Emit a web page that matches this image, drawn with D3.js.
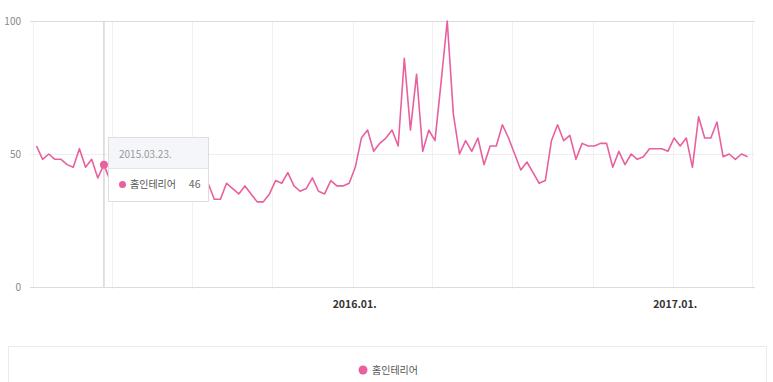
<!DOCTYPE html>
<html>
<head>
<meta charset="utf-8">
<script src="https://cdn.jsdelivr.net/npm/d3@7"></script>
<style>
  body { margin: 0; background: #fff; }
  text { font-family: "Noto Sans CJK KR", "Liberation Sans", sans-serif; }
</style>
</head>
<body>
<div id="chart"></div>
<script>
// series name and weekly values (weeks start Monday 2015.01.05)
const seriesName = "홈인테리어";
const firstWeek = new Date(2015, 0, 5);
const lastWeek = new Date(2017, 2, 27);
const values = [
  53, 48, 50, 48, 48, 46, 45, 52, 45, 48, 41, 46, 40,
  42, 44, 41, 43, 40, 42, 39, 41, 38, 40, 42, 39, 41, 38, 40,
  39, 33, 33, 39, 37, 35, 38, 35, 32, 32, 35, 40, 39, 43, 38,
  36, 37, 41, 36, 35, 40, 38, 38, 39, 45, 56, 59, 51, 54, 56,
  59, 53, 86, 59, 80, 51, 59, 55, 77, 100, 65, 50, 55, 51, 56,
  46, 53, 53, 61, 56, 50, 44, 47, 43, 39, 40, 55, 61, 55, 57,
  48, 54, 53, 53, 54, 54, 45, 51, 46, 50, 48, 49, 52, 52, 52,
  51, 56, 53, 56, 45, 64, 56, 56, 62, 49, 50, 48, 50, 49
];
const yTicks = [0, 50, 100];
const xLabelDates = [new Date(2016, 0, 1), new Date(2017, 0, 1)];
const xLabels = ["2016.01.", "2017.01."];
// hovered week shown in the tooltip
const hoverIndex = 11;
const hoverLabel = "2015.03.23.";

const width = 773, height = 382;
const color = "#e8609e";

const weeks = d3.timeMonday.range(firstWeek, d3.timeDay.offset(lastWeek, 1));
const data = weeks.map((d, i) => ({ date: d, value: values[i] }));

const svg = d3.select("#chart").append("svg")
  .attr("width", width)
  .attr("height", height);

const x = d3.scaleTime()
  .domain([new Date(2015, 0, 1), new Date(2017, 3, 1)])
  .range([33, 752]);
const y = d3.scaleLinear()
  .domain([0, 100])
  .range([287, 21]);

// vertical grid, one line each quarter
const quarters = d3.timeMonth.every(3).range(new Date(2015, 0, 1), new Date(2017, 3, 2));
svg.append("g")
  .selectAll("line")
  .data(quarters)
  .join("line")
  .attr("x1", d => Math.round(x(d)) + 0.5)
  .attr("x2", d => Math.round(x(d)) + 0.5)
  .attr("y1", y(100))
  .attr("y2", y(0) + 2)
  .attr("stroke", "#f1f1f1");

// horizontal grid + y labels
const yAxis = svg.append("g");
yAxis.selectAll("line")
  .data(yTicks)
  .join("line")
  .attr("x1", 30)
  .attr("x2", 755)
  .attr("y1", d => Math.round(y(d)) + 0.5)
  .attr("y2", d => Math.round(y(d)) + 0.5)
  .attr("stroke", d => d === 50 ? "#efefef" : "#dcdcdc");
yAxis.selectAll("text")
  .data(yTicks)
  .join("text")
  .attr("x", 21)
  .attr("y", d => y(d))
  .attr("dy", "0.35em")
  .attr("text-anchor", "end")
  .style("font-size", "10px")
  .attr("fill", "#888")
  .text(d => d);

// x labels
svg.append("g")
  .selectAll("text")
  .data(xLabelDates)
  .join("text")
  .attr("x", d => x(d) + 2)
  .attr("y", 304)
  .attr("dy", "0.35em")
  .attr("text-anchor", "middle")
  .style("font-size", "10.5px")
  .style("font-weight", "bold")
  .attr("fill", "#333")
  .text((d, i) => xLabels[i]);

// hover guide line
const hx = x(data[hoverIndex].date);
svg.append("line")
  .attr("x1", hx).attr("x2", hx)
  .attr("y1", y(100)).attr("y2", y(0))
  .attr("stroke", "#d6d6d6")
  .attr("stroke-width", 1.5);

// the trend line
const line = d3.line()
  .x(d => x(d.date))
  .y(d => y(d.value));
svg.append("path")
  .datum(data)
  .attr("d", line)
  .attr("fill", "none")
  .attr("stroke", color)
  .attr("stroke-width", 1.6)
  .attr("stroke-linejoin", "round");

svg.append("circle")
  .attr("cx", hx)
  .attr("cy", y(data[hoverIndex].value))
  .attr("r", 4)
  .attr("fill", color);

// tooltip
const tip = svg.append("g").attr("transform", "translate(108.5,137.5)");
tip.append("rect")
  .attr("width", 100).attr("height", 64)
  .attr("fill", "#fff")
  .attr("stroke", "#dedede");
tip.append("rect")
  .attr("x", 0.5).attr("y", 0.5)
  .attr("width", 99).attr("height", 30)
  .attr("fill", "#f5f6fa");
tip.append("line")
  .attr("x1", 0).attr("x2", 100)
  .attr("y1", 31).attr("y2", 31)
  .attr("stroke", "#e6e6e6");
tip.append("text")
  .attr("x", 10.5).attr("y", 16.5)
  .attr("dy", "0.35em")
  .style("font-size", "10px")
  .attr("fill", "#999")
  .text(hoverLabel);
tip.append("circle")
  .attr("cx", 14).attr("cy", 47)
  .attr("r", 3.5)
  .attr("fill", color);
tip.append("text")
  .attr("x", 21.5).attr("y", 47)
  .attr("dy", "0.35em")
  .style("font-size", "10px")
  .attr("fill", "#555")
  .text(seriesName);
tip.append("text")
  .attr("x", 92).attr("y", 47)
  .attr("dy", "0.35em")
  .attr("text-anchor", "end")
  .style("font-size", "10.5px")
  .attr("fill", "#666")
  .text(data[hoverIndex].value);

// legend box
svg.append("rect")
  .attr("x", 8.5).attr("y", 346.5)
  .attr("width", 758).attr("height", 50)
  .attr("fill", "#fff")
  .attr("stroke", "#ebebeb");
svg.append("circle")
  .attr("cx", 363).attr("cy", 370)
  .attr("r", 4.5)
  .attr("fill", color);
svg.append("text")
  .attr("x", 372).attr("y", 370)
  .attr("dy", "0.35em")
  .style("font-size", "10px")
  .attr("fill", "#555")
  .text(seriesName);
</script>
</body>
</html>
